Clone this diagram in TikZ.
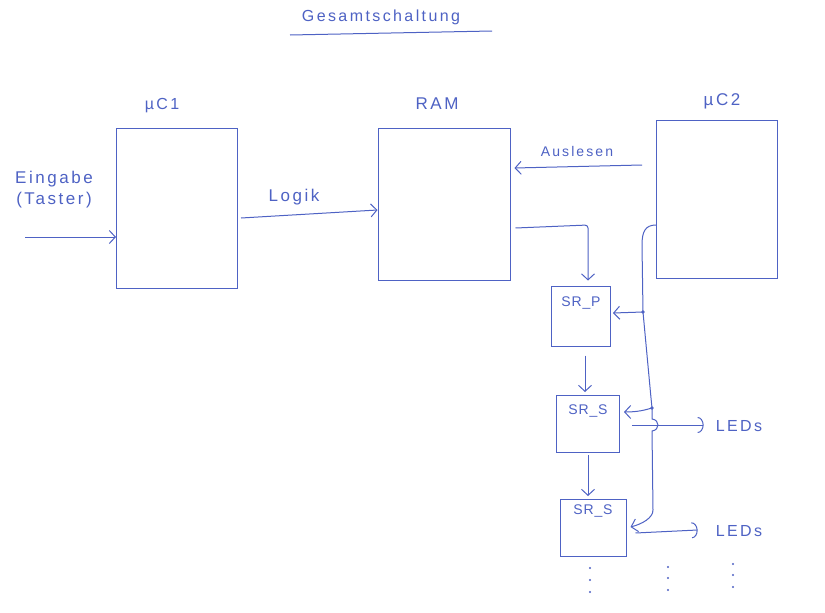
\documentclass[tikz,border=0pt]{standalone}
\usepackage{fontspec}
\setmainfont{Liberation Sans}
\newfontfamily\hw[LetterSpace=15]{Liberation Sans}
\newfontfamily\hwn[LetterSpace=6]{Liberation Sans}
\usetikzlibrary{arrows.meta,calc}
\definecolor{pen}{RGB}{78,98,196}
\begin{document}
\begin{tikzpicture}[x=1pt,y=-1pt,
  box/.style={draw=pen, line width=1pt, inner sep=0pt},
  lbl/.style={text=pen, inner sep=0pt, font=\hw\fontsize{#1}{#1}\selectfont},
  lbl/.default=15,
  slbl/.style={text=pen, inner sep=0pt, font=\hwn\fontsize{14}{14}\selectfont},
  wire/.style={draw=pen, line width=1pt},
  arr/.style={wire, -{Straight Barb[length=6pt,width=13pt]}},
  ledarr/.style={wire, -{Arc Barb[length=6pt,width=16pt]}},
  dot/.style={fill=pen}]
\useasboundingbox (0,0) rectangle (825,613);
\fill[white] (0,0) rectangle (825,613);

% title
\node[lbl=16] (title) at (381,17) {Gesamtschaltung};
\draw[wire] (290,35) -- (492,31);

% main blocks
\node[box, minimum width=121pt, minimum height=160pt] (mc1) at (177,208) {};
\node[box, minimum width=132pt, minimum height=152pt] (ram) at (444,204) {};
\node[box, minimum width=121pt, minimum height=158pt] (mc2) at (717,199) {};
\node[lbl=16] (lmc1) at (162,106) {µC1};
\node[lbl=17] (lram) at (437,104) {RAM};
\node[lbl=17] (lmc2) at (722,101) {µC2};

% shift registers
\node[box, minimum width=59pt, minimum height=60pt,
  label={[slbl, anchor=north, yshift=-11pt]north:SR\_P}] (srp) at (581,316) {};
\node[box, minimum width=63pt, minimum height=57pt,
  label={[slbl, anchor=north, yshift=-10pt]north:SR\_S}] (srs1) at (588,424) {};
\node[box, minimum width=66pt, minimum height=57pt,
  label={[slbl, anchor=north, yshift=-6pt]north:SR\_S}] (srs2) at (593,528) {};

% texts
\node[lbl=17, align=center] (ein) at (54,190) {Eingabe\\[4pt](Taster)};
\node[lbl=17] (logik) at (294,197) {Logik};
\node[lbl=14] (ausl) at (577,151) {Auslesen};
\node[lbl=16] (led1) at (739,426) {LEDs};
\node[lbl=16] (led2) at (739,531) {LEDs};

% connectors
\coordinate (in) at (25,237);
\draw[arr] (in) -- (in -| mc1.west);
\draw[arr] ([xshift=3pt,yshift=-10pt]mc1.east) -- ([yshift=-6pt]ram.west);
\draw[arr] ([xshift=-14pt,yshift=34pt]mc2.west) -- ([xshift=4pt,yshift=36pt]ram.east);
\draw[arr, rounded corners=3pt] ([xshift=5pt,yshift=-24pt]ram.east) -- (588,225) -- ([xshift=7pt,yshift=5pt]srp.north);
\draw[arr] ([xshift=4pt,yshift=-9pt]srp.south) -- ([xshift=-3pt,yshift=3pt]srs1.north);
\draw[arr] ([yshift=-2pt]srs1.south) -- ([xshift=-5pt,yshift=3pt]srs2.north);

% control bus from uC2
\draw[wire] ([yshift=-26pt]mc2.west) .. controls (645,225) and (642,232) .. (642,245)
  -- (643,312) coordinate (j1) -- (651,398) -- (652,408) coordinate (j2)
  -- (652,419) .. controls (660,420) and (660,430) .. (652,431)
  -- (653,510) coordinate (j3);
\fill[dot] (j1) circle (1.8);
\fill[dot] (j2) circle (1.8);
\draw[arr] (j1) -- ([xshift=2pt,yshift=3pt]srp.east);
\draw[arr] (j2) .. controls (645,410) and (638,412) .. ([xshift=4pt,yshift=12pt]srs1.east);
\draw[arr] (j3) .. controls (653,518) and (642,524) .. ([xshift=4pt,yshift=1pt]srs2.east);

% outputs to LEDs
\draw[ledarr] ([xshift=12pt,yshift=-1pt]srs1.east) -- ([xshift=-12pt]led1.west |- 0,425);
\draw[ledarr] ([xshift=9pt,yshift=-5pt]srs2.east) -- ([xshift=-18pt]led2.west |- 0,530);

% continuation dots
\foreach \x/\y in {590/568, 590/580, 590/592, 668/567, 668/578, 668/590, 733/564, 733/575, 733/587}
  \fill[dot] (\x,\y) circle (1.2);
\end{tikzpicture}
\end{document}
